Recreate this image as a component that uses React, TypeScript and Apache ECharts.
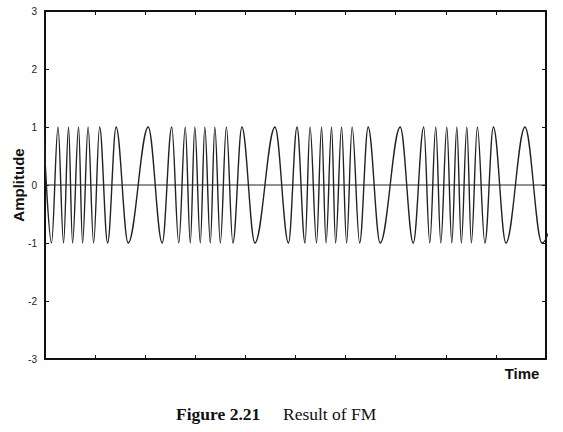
import React, { useEffect, useRef } from "react";
import * as echarts from "echarts";

// Extrema of the FM waveform (time in axis units 0..10)
const extremaTimes: number[] = [
  -0.03, 0.13, 0.26, 0.37, 0.47, 0.55, 0.67, 0.75, 0.86, 0.97, 1.09, 1.25, 1.42,
  1.66, 2.06, 2.34, 2.53, 2.67, 2.8, 2.9, 2.99, 3.1, 3.19, 3.3, 3.39, 3.5, 3.62,
  3.75, 3.93, 4.19, 4.59, 4.86, 5.03, 5.19, 5.29, 5.42, 5.52, 5.61, 5.72, 5.8,
  5.92, 6.02, 6.13, 6.28, 6.45, 6.69, 7.09, 7.35, 7.56, 7.68, 7.8, 7.9, 8.02,
  8.12, 8.22, 8.31, 8.42, 8.51, 8.63, 8.78, 8.95, 9.2, 9.58, 9.92, 10.5,
];
const extremaValues: number[] = [
  1, -1, 1, -1, 1, -1, 1, -1, 1, -1, 1, -1, 1,
  -1, 1, -1, 1, -1, 1, -1, 1, -1, 1, -1, 1, -1, 1,
  -1, 1, -1, 1, -1, 1, -1, 1, -1, 1, -1, 1, -1,
  1, -1, 1, -1, 1, -1, 1, -1, 1, -1, 1, -1, 1,
  -1, 1, -1, 1, -1, 1, -1, 1, -1, 1, -1, 1,
];
const zeroLine: number[][] = [
  [0, 0],
  [10, 0],
];
const yTicks = [-3, -2, -1, 0, 1, 2, 3];
const xRange = [0, 10];

const axisCommon = {
  type: "value" as const,
  axisLine: { show: true, onZero: false, lineStyle: { color: "#111", width: 2 } },
  axisTick: { show: true, inside: true, length: 4, lineStyle: { color: "#111", width: 1 } },
  splitLine: { show: false },
};

export default function App() {
  const ref = useRef<HTMLDivElement>(null);
  useEffect(() => {
    if (!ref.current) return;
    const chart = echarts.init(ref.current, undefined, { renderer: "svg" });
    const signal = extremaTimes.map((t, i) => [t, extremaValues[i]]);
    chart.setOption({
      animation: false,
      backgroundColor: "#ffffff",
      grid: { left: 45, right: 17, top: 11, bottom: 73 },
      xAxis: [
        {
          ...axisCommon,
          position: "bottom",
          min: xRange[0],
          max: xRange[1],
          interval: 1,
          axisLabel: { show: false },
        },
        {
          ...axisCommon,
          position: "top",
          min: xRange[0],
          max: xRange[1],
          interval: 1,
          axisLabel: { show: false },
        },
      ],
      yAxis: [
        {
          ...axisCommon,
          position: "left",
          min: yTicks[0],
          max: yTicks[yTicks.length - 1],
          interval: 1,
          axisLabel: {
            show: true,
            margin: 8,
            fontSize: 10,
            color: "#222",
            fontFamily: "Liberation Sans, Arial, sans-serif",
          },
        },
        {
          ...axisCommon,
          position: "right",
          min: yTicks[0],
          max: yTicks[yTicks.length - 1],
          interval: 1,
          axisLabel: { show: false },
        },
      ],
      series: [
        {
          type: "line",
          data: zeroLine,
          symbol: "none",
          lineStyle: { color: "#222", width: 1 },
          silent: true,
          clip: true,
        },
        {
          type: "line",
          data: signal,
          symbol: "none",
          smooth: 0.36,
          smoothMonotone: "x",
          lineStyle: { color: "#222", width: 1.4 },
          clip: true,
        },
      ],
      graphic: [
        {
          type: "text",
          x: 18,
          y: 185,
          rotation: Math.PI / 2,
          style: {
            text: "Amplitude",
            fill: "#111",
            font: "bold 15px 'Liberation Sans', Arial, sans-serif",
            align: "center",
            verticalAlign: "middle",
          },
        },
        {
          type: "text",
          x: 522,
          y: 373,
          style: {
            text: "Time",
            fill: "#111",
            font: "bold 15px 'Liberation Sans', Arial, sans-serif",
            align: "center",
            verticalAlign: "middle",
          },
        },
        {
          type: "text",
          x: 176,
          y: 414,
          style: {
            text: "Figure 2.21",
            fill: "#111",
            font: "bold 17.5px 'Liberation Serif', 'Times New Roman', serif",
            align: "left",
            verticalAlign: "middle",
          },
        },
        {
          type: "text",
          x: 283,
          y: 414,
          style: {
            text: "Result of FM",
            fill: "#111",
            font: "17.5px 'Liberation Serif', 'Times New Roman', serif",
            align: "left",
            verticalAlign: "middle",
          },
        },
      ],
    });
    return () => chart.dispose();
  }, []);
  return (
    <div
      ref={ref}
      style={{ position: "fixed", left: 0, top: 0, width: 563, height: 432, background: "#fff" }}
    />
  );
}
